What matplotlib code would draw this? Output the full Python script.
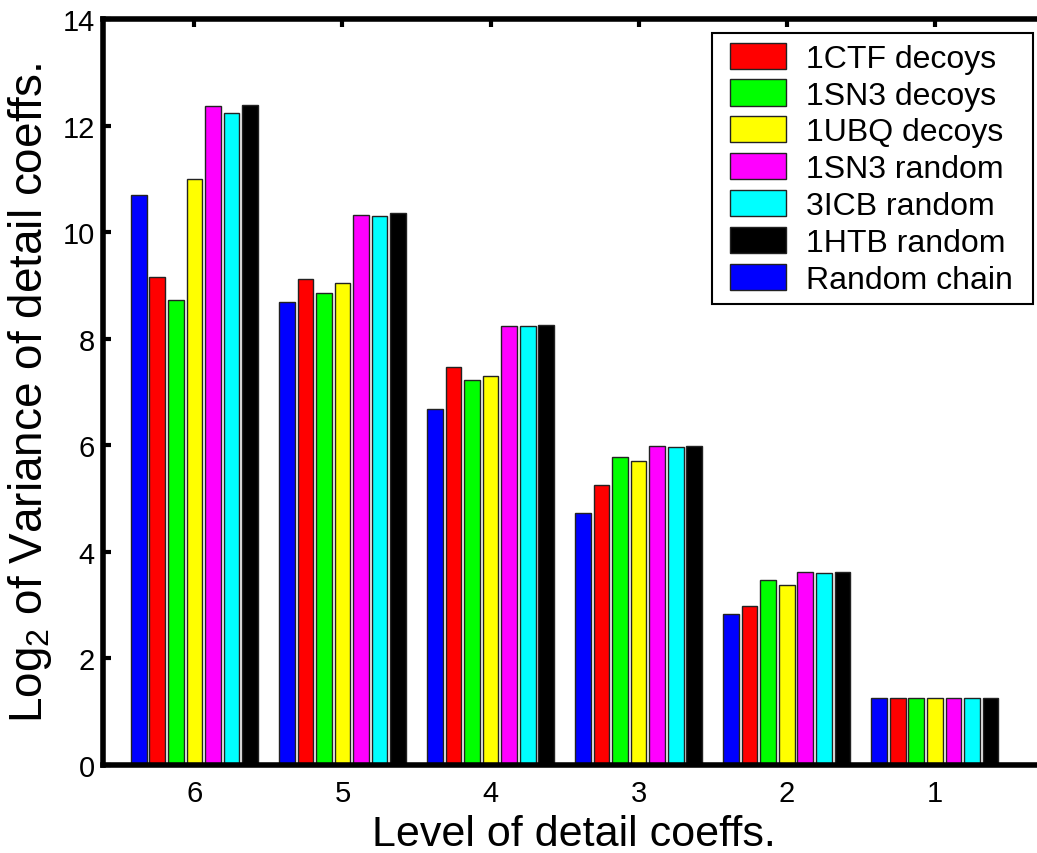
import numpy as np
import matplotlib
matplotlib.use("Agg")
import matplotlib.pyplot as plt
from matplotlib.patches import Rectangle

plt.rcParams['font.family'] = ['Liberation Sans', 'DejaVu Sans']
plt.rcParams['mathtext.fontset'] = 'custom'
plt.rcParams['mathtext.rm'] = 'Liberation Sans'
plt.rcParams['mathtext.it'] = 'Liberation Sans'

# level of detail coefficients (left to right)
levels = ['6', '5', '4', '3', '2', '1']

# log2 variance per data set, one value per level
random_chain = [10.70, 8.69, 6.68, 4.73, 2.84, 1.26]
ctf_decoys = [9.15, 9.12, 7.46, 5.25, 2.98, 1.26]
sn3_decoys = [8.73, 8.86, 7.23, 5.78, 3.48, 1.26]
ubq_decoys = [11.00, 9.04, 7.30, 5.70, 3.37, 1.26]
sn3_random = [12.36, 10.32, 8.23, 5.99, 3.62, 1.26]
icb_random = [12.24, 10.30, 8.23, 5.97, 3.60, 1.26]
htb_random = [12.39, 10.36, 8.26, 5.99, 3.62, 1.26]

series = [
    ('Random chain', random_chain, '#0000ff'),
    ('1CTF decoys', ctf_decoys, '#ff0000'),
    ('1SN3 decoys', sn3_decoys, '#00ff00'),
    ('1UBQ decoys', ubq_decoys, '#ffff00'),
    ('1SN3 random', sn3_random, '#ff00ff'),
    ('3ICB random', icb_random, '#00ffff'),
    ('1HTB random', htb_random, '#000000'),
]
legend_order = ['1CTF decoys', '1SN3 decoys', '1UBQ decoys', '1SN3 random',
                '3ICB random', '1HTB random', 'Random chain']

W, H = 1037, 854
fig = plt.figure(figsize=(W / 100, H / 100), dpi=100)
ax = fig.add_axes([103/W, 88/H, (1045-103)/W, (766-20)/H])

x = np.arange(1, len(levels) + 1)
step = 0.1253
width = 0.106
handles = {}
for i, (name, vals, col) in enumerate(series):
    b = ax.bar(x + (i - 3) * step, vals, width, color=col,
               edgecolor='#222222', linewidth=1.0, label=name, zorder=2)
    handles[name] = b

ax.set_xlim(0.383, 6.744)
ax.set_ylim(0, 14)
ax.set_yticks(np.arange(0, 15, 2))
ax.set_xticks(x)
ax.set_xticklabels(levels)

for side in ['left', 'bottom', 'top']:
    ax.spines[side].set_linewidth(4)
    ax.spines[side].set_zorder(5)
ax.spines['right'].set_visible(False)
ax.tick_params(axis='both', direction='in', length=6, width=3, labelsize=21)
ax.tick_params(axis='x', top=True, pad=10)
ax.tick_params(axis='y', pad=6)

ax.set_xlabel('Level of detail coeffs.', fontsize=31, labelpad=5)
ax.set_ylabel(r'Log$_2$ of Variance of detail coeffs.', fontsize=33, labelpad=6)

# legend entries in custom order, frame drawn separately as a plain box
fs = 23
pad_px = 0.3 * fs * 100 / 72
leg = ax.legend([handles[n] for n in legend_order], legend_order,
                loc='upper left',
                bbox_to_anchor=((730 - pad_px) / W, 1 - 34 / H),
                bbox_transform=fig.transFigure, borderaxespad=0,
                fontsize=fs, frameon=False,
                handlelength=1.75, handleheight=0.88, handletextpad=0.63,
                labelspacing=0.18, borderpad=0.3)
leg.set_zorder(10)
frame = Rectangle((712 / W, 1 - 305 / H), (1033 - 712) / W, (305 - 34) / H,
                  transform=fig.transFigure, facecolor='white',
                  edgecolor='black', linewidth=1.5, zorder=9)
fig.patches.append(frame)
# move legend to figure level so it draws above the frame
leg.remove()
fig.add_artist(leg)

fig.savefig('out.png', dpi=100)
